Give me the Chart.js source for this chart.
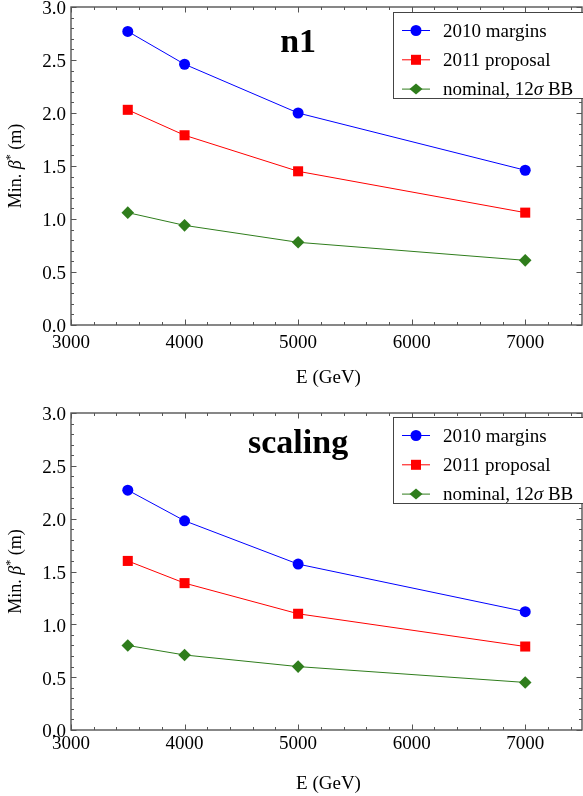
<!DOCTYPE html>
<html>
<head>
<meta charset="utf-8">
<script src="https://cdn.jsdelivr.net/npm/chart.js@4.4.1/dist/chart.umd.min.js"></script>
<style>
  body { margin: 0; background: #fff; }
  .box { width: 583px; height: 398px; position: relative; }
</style>
</head>
<body>
<div class="box"><canvas id="chartN1"></canvas></div>
<div class="box"><canvas id="chartScaling"></canvas></div>
<script>
// energies (GeV)
const energies = [3500, 4000, 5000, 7000];
const seriesNames = ["2010 margins", "2011 proposal", "nominal, 12σ BB"];

// panel "n1"
const n1Margins2010 = [2.77, 2.46, 2.00, 1.46];
const n1Proposal2011 = [2.03, 1.79, 1.45, 1.06];
const n1Nominal = [1.06, 0.94, 0.78, 0.61];

// panel "scaling"
const scMargins2010 = [2.27, 1.98, 1.57, 1.12];
const scProposal2011 = [1.60, 1.39, 1.10, 0.79];
const scNominal = [0.80, 0.71, 0.60, 0.45];

const yTicks = [0, 0.5, 1, 1.5, 2, 2.5, 3];
const xTicks = [3000, 4000, 5000, 6000, 7000];

const SERIF = "'Liberation Serif', 'DejaVu Serif', serif";
const GREEN = "#2f7d1c";

function toPoints(vals) {
  return vals.map((v, i) => ({ x: energies[i], y: v }));
}

// frame + inward ticks on all four sides
const framePlugin = {
  id: "frame",
  afterDatasetsDraw(chart) {
    const ctx = chart.ctx;
    const a = chart.chartArea;
    const xs = chart.scales.x, ys = chart.scales.y;
    ctx.save();
    ctx.strokeStyle = "#555";
    ctx.lineWidth = 1.4;
    ctx.strokeRect(a.left, a.top, a.right - a.left, a.bottom - a.top);
    ctx.lineWidth = 1;
    ctx.beginPath();
    for (let v = 3000; v <= 7500; v += 200) {
      const px = Math.round(xs.getPixelForValue(v)) + 0.5;
      const len = v % 1000 === 0 ? 5.5 : 3;
      ctx.moveTo(px, a.bottom); ctx.lineTo(px, a.bottom - len);
      ctx.moveTo(px, a.top); ctx.lineTo(px, a.top + len);
    }
    for (let i = 0; i <= 30; i++) {
      const v = i / 10;
      const py = Math.round(ys.getPixelForValue(v)) + 0.5;
      const len = i % 5 === 0 ? 5.5 : 3;
      ctx.moveTo(a.left, py); ctx.lineTo(a.left + len, py);
      ctx.moveTo(a.right, py); ctx.lineTo(a.right - len, py);
    }
    ctx.stroke();
    ctx.restore();
  }
};

function drawMarker(ctx, style, x, y, color) {
  ctx.fillStyle = color;
  ctx.beginPath();
  if (style === "circle") {
    ctx.arc(x, y, 5.5, 0, Math.PI * 2);
  } else if (style === "rect") {
    ctx.rect(x - 5, y - 5, 10, 10);
  } else {
    ctx.moveTo(x - 6.5, y); ctx.lineTo(x, y - 5.5);
    ctx.lineTo(x + 6.5, y); ctx.lineTo(x, y + 5.5);
  }
  ctx.closePath();
  ctx.fill();
}

// text with italic greek letters
function drawRich(ctx, parts, x, y) {
  let cx = x;
  parts.forEach(p => {
    ctx.font = p[1];
    ctx.fillText(p[0], cx, y + (p[2] || 0));
    cx += ctx.measureText(p[0]).width;
  });
  return cx - x;
}
function richWidth(ctx, parts) {
  let w = 0;
  parts.forEach(p => { ctx.font = p[1]; w += ctx.measureText(p[0]).width; });
  return w;
}

const decorPlugin = {
  id: "decor",
  afterDraw(chart, args, opts) {
    const ctx = chart.ctx;
    const a = chart.chartArea;
    ctx.save();
    ctx.fillStyle = "#000";
    ctx.textBaseline = "alphabetic";

    // panel title
    ctx.font = "bold 34px " + SERIF;
    ctx.textAlign = "center";
    ctx.fillText(opts.title, chart.scales.x.getPixelForValue(5000), a.top + opts.titleY);

    // x axis title
    ctx.font = "19px " + SERIF;
    ctx.textBaseline = "middle";
    ctx.fillText("E (GeV)", (a.left + a.right) / 2 + 2, a.bottom + opts.xTitleY);
    ctx.textBaseline = "alphabetic";
    ctx.textAlign = "left";

    // y axis title
    const norm = "18px " + SERIF, ital = "italic 18px " + SERIF, sup = "12px " + SERIF;
    const parts = [["Min. ", norm], ["β", ital], ["*", sup, -7], [" (m)", norm]];
    const w = richWidth(ctx, parts);
    ctx.translate(21, (a.top + a.bottom) / 2 + w / 2);
    ctx.rotate(-Math.PI / 2);
    drawRich(ctx, parts, 0, 0);
    ctx.setTransform(1, 0, 0, 1, 0, 0);

    // legend
    const bx = a.left + 322, by = a.top + opts.legendTop, bw = 200, bh = 86;
    ctx.fillStyle = "#fff";
    ctx.fillRect(bx, by, bw, bh);
    ctx.strokeStyle = "#444";
    ctx.lineWidth = 1;
    ctx.strokeRect(bx + 0.5, by + 0.5, bw, bh);
    chart.data.datasets.forEach((ds, i) => {
      const ry = by + 18.5 + i * 29.3;
      ctx.strokeStyle = ds.borderColor;
      ctx.lineWidth = 1;
      ctx.beginPath();
      ctx.moveTo(bx + 9, ry); ctx.lineTo(bx + 37, ry);
      ctx.stroke();
      drawMarker(ctx, ds.pointStyle, bx + 23, ry, ds.backgroundColor);
      ctx.fillStyle = "#000";
      const segs = ds.label.split("σ");
      const lp = [];
      segs.forEach((s, k) => {
        if (k > 0) lp.push(["σ", "italic 19px " + SERIF]);
        lp.push([s, "19px " + SERIF]);
      });
      drawRich(ctx, lp, bx + 50, ry + 6);
    });
    ctx.restore();
  }
};

function makeChart(id, vals, opts) {
  const colors = ["#0000ff", "#ff0000", GREEN];
  const styles = ["circle", "rect", "rectRot"];
  const radii = [5.5, 7.1, 6.3];
  return new Chart(document.getElementById(id), {
    type: "line",
    data: {
      datasets: vals.map((v, i) => ({
        label: seriesNames[i],
        data: toPoints(v),
        borderColor: colors[i],
        backgroundColor: colors[i],
        borderWidth: 1,
        pointStyle: styles[i],
        pointRadius: radii[i],
        pointBorderWidth: 0,
        tension: 0,
        fill: false
      }))
    },
    options: {
      responsive: true,
      maintainAspectRatio: false,
      animation: false,
      layout: { autoPadding: false, padding: { top: opts.padTop, right: 1, left: 0, bottom: 0 } },
      plugins: {
        legend: { display: false },
        tooltip: { enabled: false },
        decor: { title: opts.title, titleY: opts.titleY, legendTop: opts.legendTop, xTitleY: opts.xTitleY }
      },
      scales: {
        x: {
          type: "linear",
          min: 3000,
          max: 7500,
          afterBuildTicks: s => { s.ticks = xTicks.map(v => ({ value: v })); },
          afterFit: s => { s.height = opts.xHeight; s.paddingLeft = 0; s.paddingRight = 0; },
          grid: { display: false, drawTicks: false },
          border: { display: false },
          ticks: { color: "#000", font: { family: SERIF, size: 19 }, padding: opts.xPad, maxRotation: 0,
                   callback: v => String(v) }
        },
        y: {
          min: 0,
          max: 3,
          afterBuildTicks: s => { s.ticks = yTicks.map(v => ({ value: v })); },
          afterFit: s => { s.width = 71; s.paddingTop = 0; s.paddingBottom = 0; },
          grid: { display: false, drawTicks: false },
          border: { display: false },
          ticks: { color: "#000", font: { family: SERIF, size: 19 }, padding: 5, labelOffset: 2.5,
                   callback: v => v.toFixed(1) }
        }
      }
    },
    plugins: [framePlugin, decorPlugin]
  });
}

makeChart("chartN1", [n1Margins2010, n1Proposal2011, n1Nominal],
  { title: "n1", titleY: 45, legendTop: 5, padTop: 7, xHeight: 73, xPad: 7, xTitleY: 53 });
makeChart("chartScaling", [scMargins2010, scProposal2011, scNominal],
  { title: "scaling", titleY: 40, legendTop: 4, padTop: 15, xHeight: 66, xPad: 3, xTitleY: 54 });
</script>
</body>
</html>
